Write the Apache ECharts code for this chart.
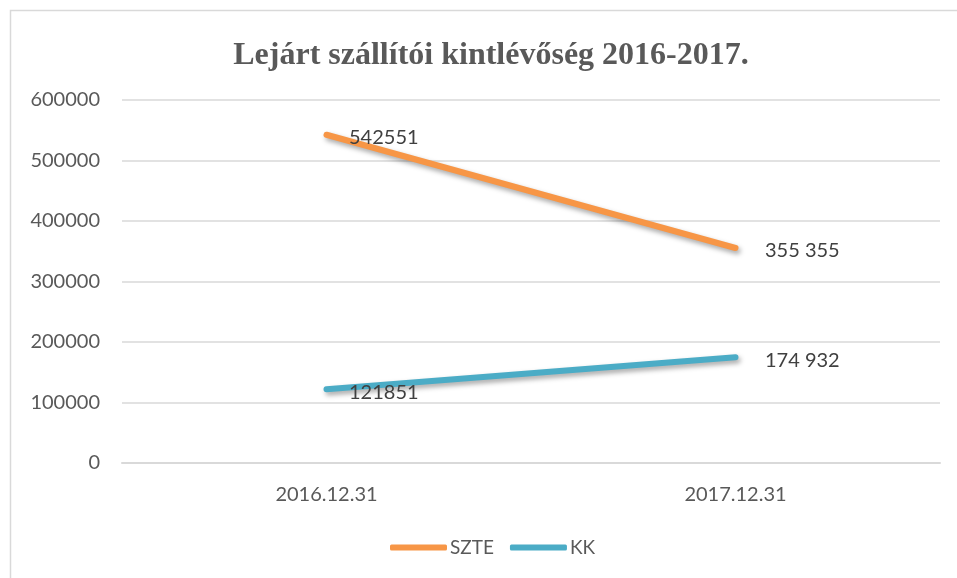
<!DOCTYPE html>
<html>
<head>
<meta charset="utf-8">
<script src="https://cdn.jsdelivr.net/npm/echarts@6/dist/echarts.min.js"></script>
<style>
  html, body { margin: 0; padding: 0; background: #fff; }
  #chart { width: 957px; height: 578px; }
</style>
</head>
<body>
<div id="chart"></div>
<script>
const categories = ["2016.12.31", "2017.12.31"];
const szteValues = [542551, 355355];
const kkValues = [121851, 174932];
const szteLabels = ["542551", "355 355"];
const kkLabels = ["121851", "174 932"];

const chart = echarts.init(document.getElementById("chart"));

const labelFont = "Lato, 'Open Sans', sans-serif";
// labels of the right-hand points sit a bit further out
const labelDistance = [22, 29];

function lineSeries(name, data, labels, color) {
  return {
    name: name,
    type: "line",
    data: data.map((v, i) => ({
      value: v,
      label: { distance: labelDistance[i] },
    })),
    symbol: "circle",
    symbolSize: 1,
    showSymbol: true,
    lineStyle: {
      color: color,
      width: 6,
      cap: "round",
      shadowColor: "rgba(0,0,0,0.35)",
      shadowBlur: 5,
      shadowOffsetX: 2,
      shadowOffsetY: 3,
    },
    itemStyle: { color: color },
    label: {
      show: true,
      position: "right",
      offset: [0, 3],
      color: "#404040",
      fontSize: 20,
      fontFamily: labelFont,
      formatter: (p) => labels[p.dataIndex],
    },
  };
}

const option = {
  animation: false,
  backgroundColor: "#fff",
  graphic: [
    {
      type: "rect",
      shape: { x: 10.5, y: 10.5, width: 990, height: 600 },
      style: { fill: "none", stroke: "#d9d9d9", lineWidth: 1.5 },
      z: -1,
    },
  ],
  title: {
    text: "Lejárt szállítói kintlévőség 2016-2017.",
    left: 486,
    top: 35,
    textAlign: "center",
    textStyle: {
      fontFamily: "'Liberation Serif', 'Times New Roman', serif",
      fontWeight: "bold",
      fontSize: 32,
      color: "#595959",
    },
  },
  legend: {
    data: [
      { name: "SZTE", itemStyle: { color: "#F79646" } },
      { name: "KK", itemStyle: { color: "#4BACC6" } },
    ],
    bottom: 16,
    left: 385,
    itemWidth: 57,
    itemHeight: 6,
    itemGap: 16,
    icon: "roundRect",
    textStyle: {
      fontFamily: labelFont,
      fontSize: 19,
      color: "#595959",
      padding: [0, 0, 0, -2],
    },
  },
  grid: {
    left: 122,
    right: 17,
    top: 100,
    bottom: 115,
  },
  xAxis: {
    type: "category",
    data: categories,
    axisLine: { lineStyle: { color: "#d9d9d9", width: 2 } },
    axisTick: { show: false },
    axisLabel: {
      color: "#595959",
      fontSize: 20,
      fontFamily: labelFont,
      margin: 22,
    },
  },
  yAxis: {
    type: "value",
    min: 0,
    max: 600000,
    interval: 100000,
    axisLine: { show: false },
    axisTick: { show: false },
    splitLine: { lineStyle: { color: "#d9d9d9", width: 1.5 } },
    axisLabel: {
      color: "#595959",
      fontSize: 20,
      fontFamily: labelFont,
      margin: 22,
      formatter: (v) => String(v),
    },
  },
  series: [
    lineSeries("SZTE", szteValues, szteLabels, "#F79646"),
    lineSeries("KK", kkValues, kkLabels, "#4BACC6"),
  ],
};

chart.setOption(option);
</script>
</body>
</html>
